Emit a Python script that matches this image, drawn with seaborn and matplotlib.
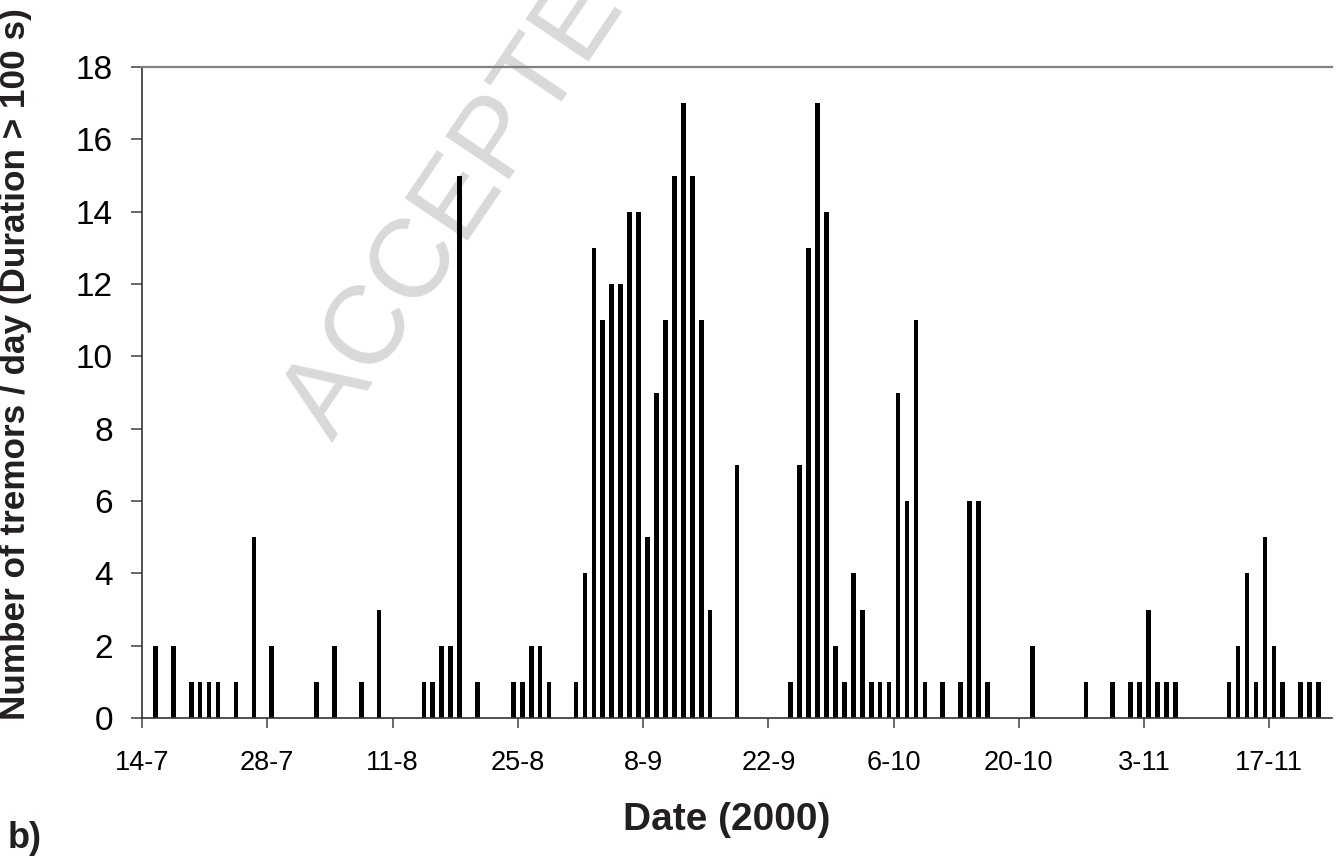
import matplotlib
matplotlib.use("Agg")
import matplotlib.pyplot as plt
import seaborn as sns
import pandas as pd

# ---- data ----
dates = ["15-7", "17-7", "19-7", "20-7", "21-7", "22-7", "24-7", "26-7", "28-7",
         "2-8", "4-8", "7-8", "9-8", "14-8", "15-8", "16-8", "17-8", "18-8", "20-8",
         "24-8", "25-8", "26-8", "27-8", "28-8", "31-8",
         "1-9", "2-9", "3-9", "4-9", "5-9", "6-9", "7-9", "8-9", "9-9", "10-9",
         "11-9", "12-9", "13-9", "14-9", "15-9", "18-9",
         "24-9", "25-9", "26-9", "27-9", "28-9", "29-9", "30-9",
         "1-10", "2-10", "3-10", "4-10", "5-10", "6-10", "7-10", "8-10", "9-10",
         "11-10", "13-10", "14-10", "15-10", "16-10", "21-10", "27-10", "30-10",
         "1-11", "2-11", "3-11", "4-11", "5-11", "6-11",
         "12-11", "13-11", "14-11", "15-11", "16-11", "17-11", "18-11",
         "20-11", "21-11", "22-11"]
counts = [2, 2, 1, 1, 1, 1, 1, 5, 2,
          1, 2, 1, 3, 1, 1, 2, 2, 15, 1,
          1, 1, 2, 2, 1, 1,
          4, 13, 11, 12, 12, 14, 14, 5, 9, 11,
          15, 17, 15, 11, 3, 7,
          1, 7, 13, 17, 14, 2, 1,
          4, 3, 1, 1, 1, 9, 6, 11, 1,
          1, 1, 6, 6, 1, 2, 1, 1,
          1, 1, 3, 1, 1, 1,
          1, 2, 4, 1, 5, 2, 1,
          1, 1, 1]
tick_labels = ["14-7", "28-7", "11-8", "25-8", "8-9", "22-9", "6-10", "20-10", "3-11", "17-11"]
start_date = "14-7"
end_date = "23-11"
yticks = [0, 2, 4, 6, 8, 10, 12, 14, 16, 18]

def to_day(s):
    t0 = pd.to_datetime(start_date + "-2000", format="%d-%m-%Y")
    return (pd.to_datetime(s + "-2000", format="%d-%m-%Y") - t0).days

df = pd.DataFrame({"day": [to_day(d) for d in dates], "count": counts})

sns.set_style("ticks")
plt.rcParams["font.family"] = ["Liberation Sans", "DejaVu Sans"]

fig = plt.figure(figsize=(13.4, 8.57), dpi=100)
ax = fig.add_axes([142 / 1340, 1 - 718 / 857, 1190 / 1340, (718 - 67) / 857])
ax.patch.set_alpha(0)

sns.barplot(data=df, x="day", y="count", native_scale=True, color="black",
            width=0.52, linewidth=0, errorbar=None, saturation=1, ax=ax)

ax.set_xlim(-0.5, to_day(end_date) + 0.5)
ax.set_ylim(0, 18)
ax.set_yticks(yticks)
ax.set_yticklabels([str(v) for v in yticks], fontsize=24, color="black")
ax.set_xticks([to_day(t) - 0.5 for t in tick_labels])
ax.set_xticklabels(tick_labels, fontsize=19.5, color="black")

ax.tick_params(axis="y", length=8, width=1.1, color="#404040", pad=13)
ax.tick_params(axis="x", length=7, width=1.1, color="#404040", pad=16)

for s in ["left", "bottom"]:
    ax.spines[s].set_color("#333333")
    ax.spines[s].set_linewidth(1.2)
ax.spines["top"].set_visible(True)
ax.spines["top"].set_color("#808080")
ax.spines["top"].set_linewidth(1.6)
ax.spines["right"].set_visible(False)

ax.set_xlabel("")
ax.set_ylabel("Number of tremors / day (Duration > 100 s)", fontsize=25.3,
              fontweight="bold", color="#231f20")
ax.yaxis.set_label_coords(32 / 1340, 1 - 364 / 857, transform=fig.transFigure)

fig.text(727 / 1340, 1 - 830 / 857, "Date (2000)", fontsize=28, fontweight="bold",
         color="#231f20", ha="center", va="baseline")
fig.text(8 / 1340, 1 - 848 / 857, "b)", fontsize=26, fontweight="bold",
         color="#231f20", ha="left", va="baseline")

# manuscript watermark
fig.text(332 / 1340, 1 - 442 / 857, "ACCEPTED MANUSCRIPT", fontsize=80,
         color="#d9d9d9", rotation=56, rotation_mode="anchor",
         ha="left", va="baseline", zorder=-1)

fig.savefig("out.png", dpi=100, facecolor="white")
